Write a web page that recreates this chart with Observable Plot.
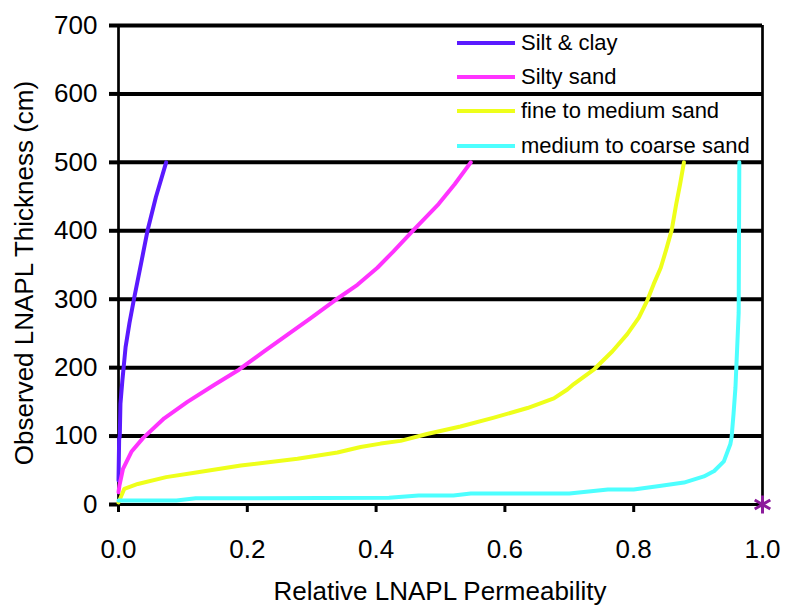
<!DOCTYPE html>
<html><head><meta charset="utf-8">
<script src="https://cdn.jsdelivr.net/npm/d3@7"></script>
<script src="https://cdn.jsdelivr.net/npm/@observablehq/plot@0.6"></script>
<style>
body{margin:0;background:#fff;font-family:"Liberation Sans",Arial,sans-serif;}
#wrap{position:relative;width:793px;height:607px;}
.legend{position:absolute;left:457px;top:26px;font-size:22px;color:#000;}
.item{display:flex;align-items:center;height:34.2px;white-space:nowrap;}
.sw{width:58px;height:4px;margin-right:6px;}
</style></head><body><div id="wrap"></div>
<script>
const seriesNames = ["Silt & clay", "Silty sand", "fine to medium sand", "medium to coarse sand"];
const seriesColors = ["#5a1aff", "#ff33ff", "#eeff1a", "#4dffff"];
const xTicks = [0, 0.2, 0.4, 0.6, 0.8, 1.0];
const yTicks = [0, 100, 200, 300, 400, 500, 600, 700];

const siltClayX = [0, 0.001, 0.002, 0.003, 0.006, 0.011, 0.017, 0.024, 0.035, 0.045, 0.058, 0.074];
const siltClayY = [35, 95, 100, 147, 181, 230, 265, 300, 352, 400, 449, 500];

const siltySandX = [0, 0.0015, 0.007, 0.020, 0.038, 0.071, 0.107, 0.149, 0.187, 0.225, 0.262, 0.298, 0.334, 0.371, 0.402, 0.427, 0.458, 0.497, 0.522, 0.547];
const siltySandY = [18, 28, 52, 77, 97, 126, 150, 175, 197, 223, 248, 272, 297, 321, 346, 370, 401, 439, 468, 500];

const fineSandX = [0, 0.009, 0.03, 0.074, 0.123, 0.19, 0.278, 0.34, 0.376, 0.407, 0.438, 0.479, 0.531, 0.583, 0.635, 0.676, 0.697, 0.707, 0.739, 0.767, 0.790, 0.808, 0.821, 0.831, 0.842, 0.850, 0.859, 0.866, 0.872, 0.878];
const fineSandY = [3, 23, 30, 40, 47, 57, 67, 76, 84, 89, 93, 103, 114, 127, 141, 155, 168, 176, 198, 224, 249, 273, 298, 322, 346, 371, 401, 439, 468, 500];

const coarseSandX = [0, 0.09, 0.12, 0.42, 0.466, 0.52, 0.547, 0.70, 0.76, 0.80, 0.84, 0.878, 0.909, 0.925, 0.94, 0.95, 0.952, 0.955, 0.958, 0.963, 0.964];
const coarseSandY = [6, 6, 9, 10, 13, 13, 16, 16, 22, 22, 27, 32, 41, 49, 63, 88, 98, 132, 171, 280, 500];

const markerX = [1.0];
const markerY = [0];

const seriesX = [siltClayX, siltySandX, fineSandX, coarseSandX];
const seriesY = [siltClayY, siltySandY, fineSandY, coarseSandY];
const rows = [];
seriesNames.forEach((name, i) => {
  seriesX[i].forEach((x, j) => rows.push({series: name, x, y: seriesY[i][j]}));
});
const markerPts = markerX.map((x, i) => ({x, y: markerY[i]}));

const chart = Plot.plot({
  width: 793, height: 607,
  marginLeft: 118, marginRight: 31, marginTop: 25, marginBottom: 103,
  style: {fontFamily: "'Liberation Sans', Arial, sans-serif", fontSize: "26px", color: "#000", background: "#fff", overflow: "visible"},
  x: {domain: [0, 1], label: null},
  y: {domain: [0, 700], label: null},
  color: {domain: seriesNames, range: seriesColors},
  marks: [
    Plot.gridY(yTicks.filter(d => d > 0), {stroke: "#000", strokeOpacity: 1, strokeWidth: 4}),
    Plot.ruleX([0, 1], {stroke: "#000", strokeWidth: 2.7}),
    Plot.ruleY([0], {stroke: "#000", strokeWidth: 3}),
    Plot.axisY({ticks: yTicks, tickSize: 9, tickPadding: 12, strokeWidth: 4, label: null}),
    Plot.axisX({ticks: xTicks, tickSize: 8, tickPadding: 27, strokeWidth: 3, tickFormat: d3.format(".1f"), label: null}),
    Plot.line(rows, {x: "x", y: "y", z: "series", stroke: "series", strokeWidth: 4}),
    Plot.dot(markerPts, {x: "x", y: "y", symbol: "asterisk", r: 8.5, stroke: "#8c1b9c", strokeWidth: 3})
  ]
});
const wrap = document.getElementById("wrap");
wrap.appendChild(chart);
const svg = d3.select(chart);
svg.append("text").attr("transform", "translate(33,273) rotate(-90)")
  .attr("text-anchor", "middle").attr("font-size", 26).attr("fill", "#000")
  .text("Observed LNAPL Thickness (cm)");
svg.append("text").attr("x", 440).attr("y", 600)
  .attr("text-anchor", "middle").attr("font-size", 26).attr("fill", "#000")
  .text("Relative LNAPL Permeability");

const legend = document.createElement("div");
legend.className = "legend";
seriesNames.forEach((n, i) => {
  const it = document.createElement("div"); it.className = "item";
  const sw = document.createElement("div"); sw.className = "sw"; sw.style.background = seriesColors[i];
  const t = document.createElement("span"); t.textContent = n;
  it.appendChild(sw); it.appendChild(t); legend.appendChild(it);
});
wrap.appendChild(legend);
</script></body></html>
